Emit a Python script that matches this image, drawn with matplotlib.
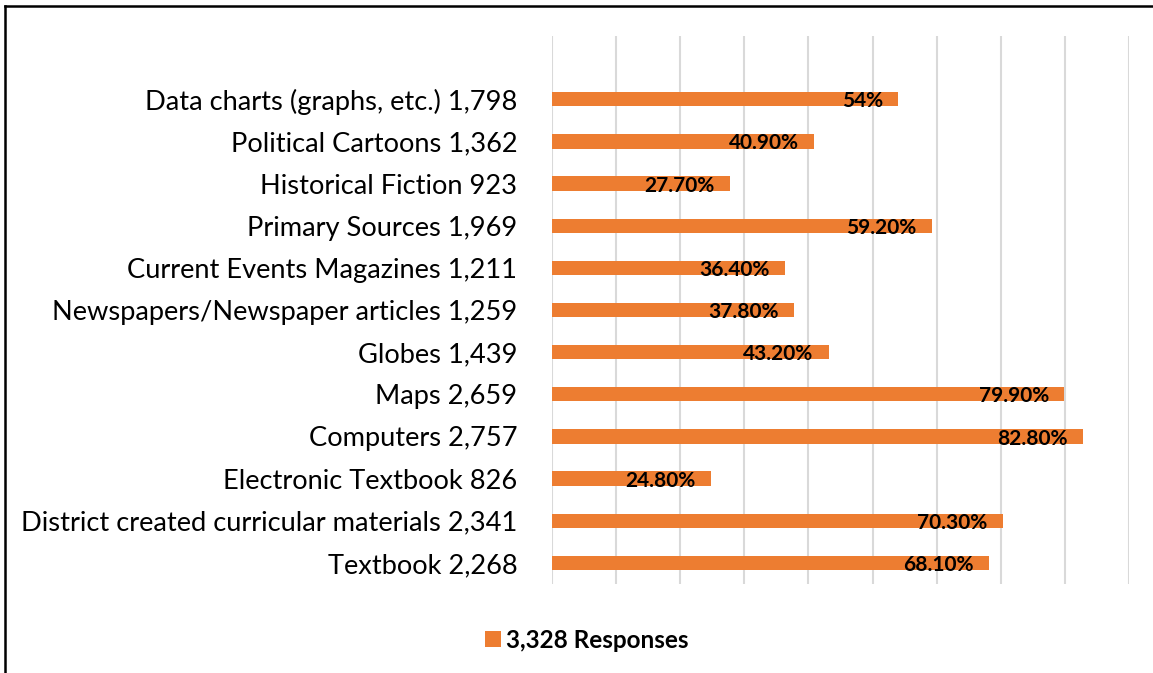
import matplotlib
matplotlib.use('Agg')
import matplotlib.pyplot as plt
from matplotlib.lines import Line2D
from matplotlib.patches import Patch

# Survey data (bottom to top, as drawn)
categories = ['Textbook 2,268',
              'District created curricular materials 2,341',
              'Electronic Textbook 826',
              'Computers 2,757',
              'Maps 2,659',
              'Globes 1,439',
              'Newspapers/Newspaper articles 1,259',
              'Current Events Magazines 1,211',
              'Primary Sources 1,969',
              'Historical Fiction 923',
              'Political Cartoons 1,362',
              'Data charts (graphs, etc.) 1,798']
percents = [68.1, 70.3, 24.8, 82.8, 79.9, 43.2, 37.8, 36.4, 59.2, 27.7, 40.9, 54.0]
value_labels = ['68.10%', '70.30%', '24.80%', '82.80%', '79.90%', '43.20%',
                '37.80%', '36.40%', '59.20%', '27.70%', '40.90%', '54%']
legend_label = '3,328 Responses'

plt.rcParams['font.family'] = ['Lato', 'DejaVu Sans']

W, H = 1153, 673
fig = plt.figure(figsize=(W / 100, H / 100), dpi=100)
ax = fig.add_axes([552 / W, 1 - 584 / H, (1129 - 552) / W, (584 - 36) / H])

ypos = list(range(len(categories)))
bars = ax.barh(ypos, percents, height=0.34, color='#ED7D31', zorder=3)

# value labels just inside the bar ends
for b, lab in zip(bars, value_labels):
    ax.annotate(lab, xy=(b.get_width(), b.get_y() + b.get_height() / 2),
                xytext=(-11, -1.5), textcoords='offset points',
                ha='right', va='center', fontsize=15, fontweight='bold',
                color='black', zorder=4)

ax.set_xlim(0, 90)
ax.set_ylim(-0.5, 12.5)
ax.set_xticks(range(0, 91, 10))
ax.set_xticklabels([])
ax.tick_params(axis='x', length=0)
ax.set_yticks(ypos)
ax.set_yticklabels(categories, fontsize=19.6)
ax.tick_params(axis='y', length=0, pad=25)
ax.grid(axis='x', color='#d9d9d9', linewidth=1.5, zorder=0)
for s in ax.spines.values():
    s.set_visible(False)

handle = Patch(facecolor='#ED7D31', edgecolor='none')
leg = fig.legend([handle], [legend_label], loc='center',
                 bbox_to_anchor=(587 / W, 1 - 640 / H), frameon=False,
                 handlelength=0.65, handleheight=0.65, handletextpad=0.2,
                 prop={'weight': 'bold', 'size': 17.5})

# frame lines (top and left)
fig.add_artist(Line2D([5 / W, 1], [1 - 6 / H, 1 - 6 / H], color='black', lw=1.8))
fig.add_artist(Line2D([5 / W, 5 / W], [0, 1 - 6 / H], color='black', lw=1.8))

fig.savefig('out.png', dpi=100)
